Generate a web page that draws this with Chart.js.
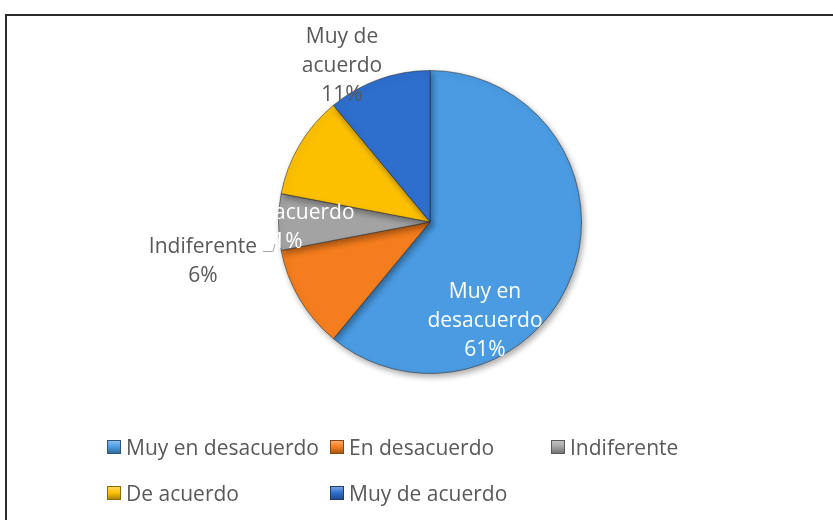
<!DOCTYPE html>
<html>
<head>
<meta charset="utf-8">
<script src="https://cdn.jsdelivr.net/npm/chart.js@4.4.0/dist/chart.umd.min.js"></script>
<style>
  html, body { margin: 0; padding: 0; background: #fff; }
  body { width: 833px; height: 520px; position: relative; overflow: hidden; font-family: "Open Sans", sans-serif; }
  .frame { position: absolute; left: 5px; top: 14px; width: 900px; height: 600px; border: 2px solid #2b2b2b; box-sizing: border-box; }
  #pie { position: absolute; left: 0; top: 0; }
  .legend-item { position: absolute; display: flex; align-items: center; font-size: 21px; color: #595959; white-space: nowrap; line-height: 24px; }
  .legend-item .box { width: 14px; height: 14px; margin-right: 5px; box-sizing: border-box; }
</style>
</head>
<body>
<div class="frame"></div>
<canvas id="pie" width="833" height="520"></canvas>
<div id="legend"></div>
<script>
  const categories = ['Muy en desacuerdo', 'En desacuerdo', 'Indiferente', 'De acuerdo', 'Muy de acuerdo'];
  const percentages = [61, 11, 6, 11, 11];
  const sliceColors = ['#4a9be2', '#f47d1e', '#a3a3a3', '#fcc000', '#2e6ecd'];

  // how each data label is wrapped, and where it sits relative to the pie center
  const labelWrap = [['Muy en', 'desacuerdo'], ['En desacuerdo'], ['Indiferente'], null, ['Muy de', 'acuerdo']];
  const labelOffset = [[55, 99], [-148, 6], [-227, 40], null, [-88, -156]];
  const labelColor = ['#ffffff', '#ffffff', '#595959', null, '#595959'];

  // legend grid: column x and row y (middle) for each item
  const legendPos = [[107, 447], [330, 447], [551, 447], [107, 493], [330, 493]];

  function shade(hex, amt) {
    const n = parseInt(hex.slice(1), 16);
    let r = (n >> 16) & 255, g = (n >> 8) & 255, b = n & 255;
    const f = v => Math.max(0, Math.min(255, Math.round(amt > 0 ? v + (255 - v) * amt : v * (1 + amt))));
    return `rgb(${f(r)},${f(g)},${f(b)})`;
  }

  function sliceFill(ctx) {
    const chart = ctx.chart;
    const el = chart.getDatasetMeta(0).data[ctx.dataIndex];
    const base = sliceColors[ctx.dataIndex];
    if (!el || !el.outerRadius) return base;
    const g = chart.ctx.createRadialGradient(el.x, el.y, 0, el.x, el.y, el.outerRadius);
    g.addColorStop(0, base);
    g.addColorStop(0.88, base);
    g.addColorStop(0.94, shade(base, 0.18));
    g.addColorStop(1, shade(base, -0.25));
    return g;
  }

  const shadowPlugin = {
    id: 'shadow',
    beforeDatasetsDraw(chart) {
      const c = chart.ctx;
      c.save();
      c.shadowColor = 'rgba(0,0,0,0.35)';
      c.shadowBlur = 6;
      c.shadowOffsetX = 2;
      c.shadowOffsetY = 3;
    },
    afterDatasetsDraw(chart) {
      chart.ctx.restore();
    }
  };

  const labelPlugin = {
    id: 'sliceLabels',
    afterDatasetsDraw(chart) {
      const c = chart.ctx;
      const arcs = chart.getDatasetMeta(0).data;
      c.save();
      c.font = '21px "Open Sans", sans-serif';
      c.textAlign = 'center';
      c.textBaseline = 'middle';
      arcs.forEach((arc, i) => {
        if (!labelWrap[i]) return;
        const lines = labelWrap[i].concat([percentages[i] + '%']);
        const cx = arc.x + labelOffset[i][0];
        const cy = arc.y + labelOffset[i][1];
        const lh = 29;
        const top = cy - (lines.length - 1) * lh / 2;
        c.fillStyle = labelColor[i];
        lines.forEach((t, k) => c.fillText(t, cx, top + k * lh));
      });
      // leader line for the Indiferente label
      const a = arcs[2];
      c.strokeStyle = '#a6a6a6';
      c.lineWidth = 1;
      c.beginPath();
      c.moveTo(a.x - 167, a.y + 29.5);
      c.lineTo(a.x - 157, a.y + 29.5);
      c.lineTo(a.x - 155, a.y + 22);
      c.stroke();
      c.restore();
    }
  };

  new Chart(document.getElementById('pie'), {
    type: 'pie',
    data: {
      labels: categories,
      datasets: [{
        data: percentages,
        backgroundColor: sliceFill,
        borderColor: 'rgba(40,40,40,0.55)',
        borderWidth: 1
      }]
    },
    options: {
      responsive: false,
      animation: false,
      devicePixelRatio: 1,
      layout: { padding: { top: 70, bottom: 146, left: 129, right: 102 } },
      plugins: { legend: { display: false }, tooltip: { enabled: false } }
    },
    plugins: [shadowPlugin, labelPlugin]
  });

  // legend
  const legendEl = document.getElementById('legend');
  categories.forEach((name, i) => {
    const item = document.createElement('div');
    item.className = 'legend-item';
    item.style.left = legendPos[i][0] + 'px';
    item.style.top = (legendPos[i][1] - 12) + 'px';
    const box = document.createElement('span');
    box.className = 'box';
    box.style.background = `linear-gradient(to bottom, ${shade(sliceColors[i], 0.35)}, ${sliceColors[i]} 50%, ${shade(sliceColors[i], -0.3)})`;
    box.style.border = `1px solid ${shade(sliceColors[i], -0.45)}`;
    const txt = document.createElement('span');
    txt.textContent = name;
    item.appendChild(box);
    item.appendChild(txt);
    legendEl.appendChild(item);
  });
</script>
</body>
</html>
